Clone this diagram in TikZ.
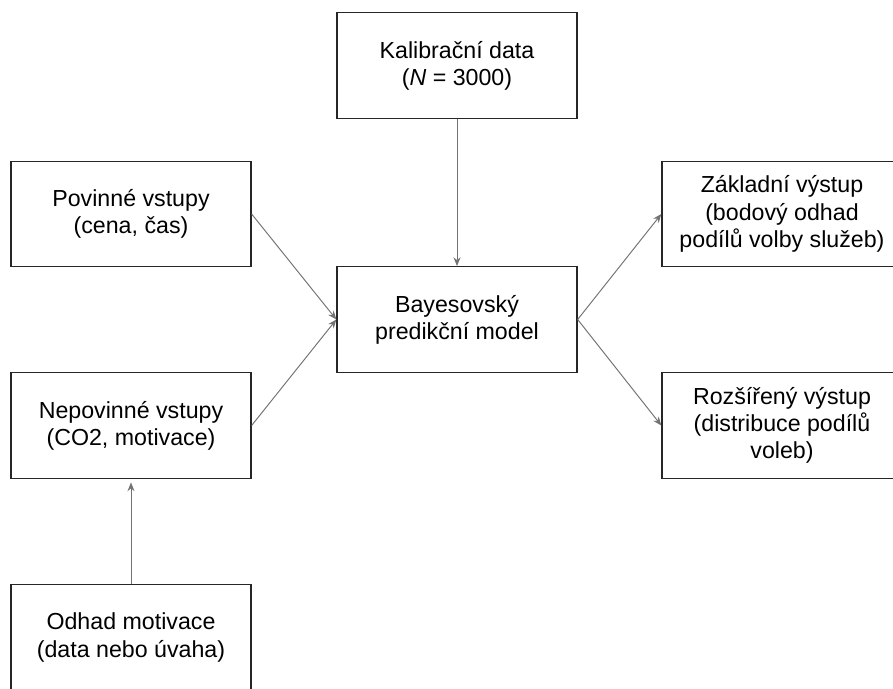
\documentclass[tikz,border=0pt]{standalone}
\usepackage{fontspec}
\setmainfont{Liberation Sans}
\usepackage{tikz}
\usetikzlibrary{positioning, arrows.meta}

\begin{document}
\begin{tikzpicture}[
	font=\fontsize{13.2}{15.5}\selectfont,
	% Styles
	box/.style={rectangle, draw=black!85, line width=0.75pt, fill=white, minimum width=4.8cm, minimum height=2.11cm, align=center, inner sep=2pt},
	flow/.style={-{Stealth[length=5pt, width=4pt]}, line width=0.55pt, draw=black!55}
	]
	
	\useasboundingbox (0,0) rectangle (17.86,-13.78);
	
	% --- Inputs (left column) ---
	\node[box] (povinne) at (2.62, -4.28) {Povinné vstupy\\(cena, čas)};
	\node[box] (nepovinne) at (2.62, -8.51) {Nepovinné vstupy\\(CO2, motivace)};
	\node[box] (odhad) at (2.62, -12.75) {Odhad motivace\\(data nebo úvaha)};
	
	% --- Model and calibration (middle column) ---
	\node[box] (kalibrace) at (9.14, -1.31) {Kalibrační data\\(\textit{N} = 3000)};
	\node[box] (model) at (9.14, -6.39) {Bayesovský\\predikční model};
	
	% --- Outputs (right column) ---
	\node[box] (zakladni) at (15.64, -4.28) {Základní výstup\\(bodový odhad\\podílů volby služeb)};
	\node[box] (rozsireny) at (15.64, -8.51) {Rozšířený výstup\\(distribuce podílů\\voleb)};
	
	% Connections
	\draw[flow] (kalibrace) -- (model);
	\draw[flow] (povinne.east) -- (model.west);
	\draw[flow] (nepovinne.east) -- (model.west);
	\draw[flow] (odhad) -- ([yshift=-2pt]nepovinne.south);
	\draw[flow] (model.east) -- (zakladni.west);
	\draw[flow] (model.east) -- (rozsireny.west);
	
\end{tikzpicture}
\end{document}
